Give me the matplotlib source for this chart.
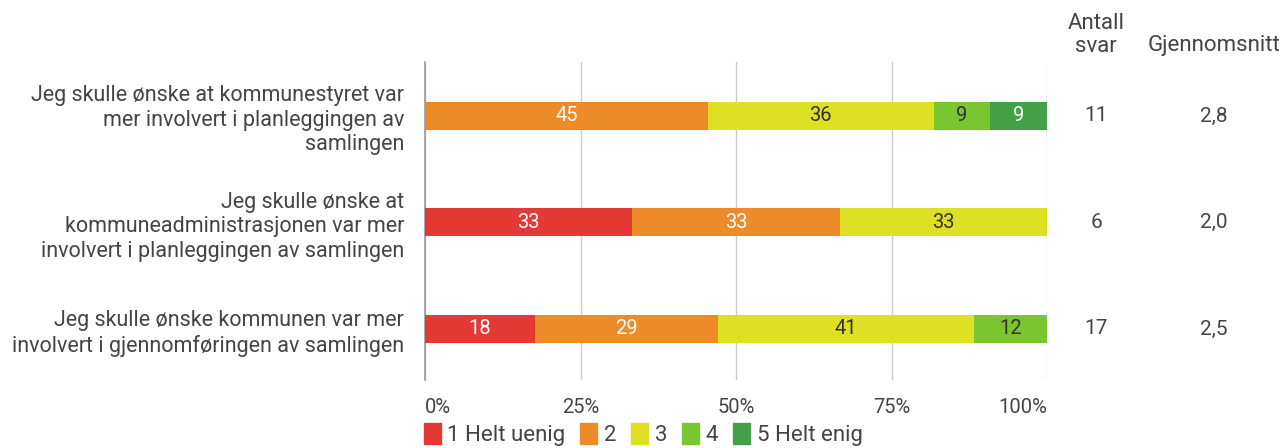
import matplotlib
matplotlib.use("Agg")
import matplotlib.pyplot as plt
from matplotlib.patches import Patch
import numpy as np

plt.rcParams['font.family'] = ['Roboto', 'DejaVu Sans']

questions = [
    "Jeg skulle ønske at kommunestyret var\nmer involvert i planleggingen av\nsamlingen",
    "Jeg skulle ønske at\nkommuneadministrasjonen var mer\ninvolvert i planleggingen av samlingen",
    "Jeg skulle ønske kommunen var mer\ninvolvert i gjennomføringen av samlingen",
]
categories = ["1 Helt uenig", "2", "3", "4", "5 Helt enig"]
# response counts per category
counts = [
    [0, 5, 4, 1, 1],
    [2, 2, 2, 0, 0],
    [3, 5, 7, 2, 0],
]
antall = [11, 6, 17]
snitt = ["2,8", "2,0", "2,5"]
ticks = [0, 25, 50, 75, 100]
tick_labels = ["0%", "25%", "50%", "75%", "100%"]

colors = ["#E53935", "#EC8B27", "#DEE024", "#7AC631", "#43A047"]
label_colors = ["white", "white", "#333333", "#333333", "white"]
text_color = "#444444"

W, H = 1282, 448
fig = plt.figure(figsize=(W / 100, H / 100), dpi=100)
ax = fig.add_axes([425 / W, 1 - 380 / H, (1047 - 425) / W, (380 - 62) / H])

counts_arr = np.array(counts, dtype=float)
pct = counts_arr / counts_arr.sum(axis=1, keepdims=True) * 100
y = np.arange(len(questions))
left = np.zeros(len(questions))
for j, cat in enumerate(categories):
    ax.barh(y, pct[:, j], left=left, height=0.263, color=colors[j], zorder=3)
    for i in range(len(questions)):
        if pct[i, j] > 0:
            ax.text(left[i] + pct[i, j] / 2, y[i], f"{pct[i, j]:.0f}",
                    ha="center", va="center", fontsize=14.5,
                    color=label_colors[j], zorder=4)
    left += pct[:, j]

ax.set_xlim(0, 100)
ax.set_ylim(2.48, -0.507)
ax.set_xticks(ticks)
ax.set_xticklabels(tick_labels, fontsize=14.5, color=text_color)
ax.tick_params(axis="x", length=0, pad=13)
xl = ax.get_xticklabels()
xl[0].set_ha("left")
xl[-1].set_ha("right")
ax.set_yticks(y)
ax.set_yticklabels(questions, fontsize=15.5, color=text_color, linespacing=1.22)
ax.tick_params(axis="y", length=0, pad=15)
for lbl in ax.get_yticklabels():
    lbl.set_multialignment("right")
ax.grid(axis="x", color="#CCCCCC", linewidth=1, zorder=0)
for s in ["top", "right", "bottom"]:
    ax.spines[s].set_visible(False)
ax.spines["left"].set_color("#999999")
ax.spines["left"].set_linewidth(1.2)

# Side columns
x_ant = 1096 / W
x_snitt = 1214 / W
fig.text(x_ant, 1 - 35 / H, "Antall\nsvar", ha="center", va="center",
         fontsize=16, color=text_color, linespacing=1.15)
fig.text(x_snitt, 1 - 46 / H, "Gjennomsnitt", ha="center", va="center",
         fontsize=16, color=text_color)
for i in range(len(questions)):
    yd = ax.transData.transform((0, y[i]))[1]
    yf = fig.transFigure.inverted().transform((0, yd))[1]
    fig.text(x_ant, yf, str(antall[i]), ha="center", va="center",
             fontsize=15, color=text_color)
    fig.text(x_snitt, yf, snitt[i], ha="center", va="center",
             fontsize=15, color=text_color)

handles = [Patch(facecolor=c, edgecolor=c, label=l) for c, l in zip(colors, categories)]
leg = fig.legend(handles=handles, loc="center left",
                 bbox_to_anchor=(415 / W, 1 - 434.5 / H), ncol=5, frameon=False,
                 fontsize=16, handlelength=0.75, handleheight=1.1,
                 handletextpad=0.3, columnspacing=0.68, borderaxespad=0)
for t in leg.get_texts():
    t.set_color(text_color)

fig.savefig("out.png", dpi=100)
